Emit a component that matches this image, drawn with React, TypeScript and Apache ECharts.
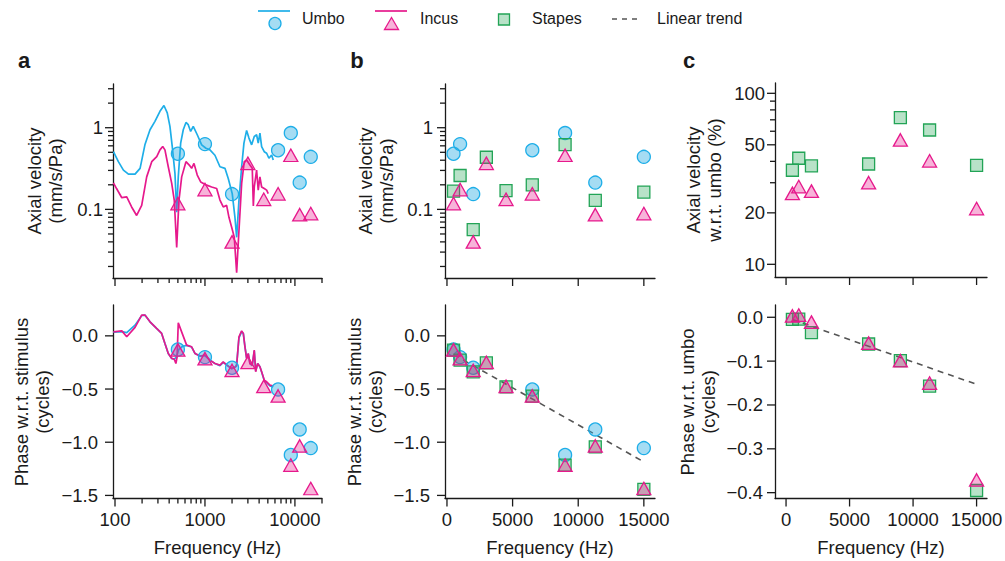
import React, { useEffect, useRef } from 'react';
import * as echarts from 'echarts';

// ---------- DATA ----------
const UMBO_FREQ = [500, 1000, 2000, 6500, 9000, 11300, 15000];
const ALL_FREQ = [500, 1000, 2000, 3000, 4500, 6500, 9000, 11300, 15000];
const REL_FREQ = [500, 1000, 2000, 6500, 9000, 11300, 15000];

const umboVel = [0.48, 0.63, 0.154, 0.53, 0.86, 0.213, 0.44];
const incusVel = [0.118, 0.175, 0.04, 0.367, 0.133, 0.155, 0.46, 0.086, 0.089];
const stapesVel = [0.167, 0.26, 0.0565, 0.435, 0.17, 0.2, 0.62, 0.129, 0.163];

const umboPhase = [-0.128, -0.2, -0.3, -0.504, -1.12, -0.88, -1.055];
const incusPhase = [-0.132, -0.215, -0.325, -0.25, -0.475, -0.565, -1.215, -1.035, -1.435];
const stapesPhase = [-0.134, -0.228, -0.338, -0.254, -0.479, -0.567, -1.215, -1.043, -1.444];

const stapesRel = [35.5, 41.7, 37.6, 38.6, 72, 61, 37.9];
const incusRel = [26, 28.5, 26.8, 30, 53.4, 40.3, 21.2];
const stapesRelPhase = [-0.005, -0.004, -0.035, -0.061, -0.099, -0.157, -0.395];
const incusRelPhase = [0.003, 0.005, -0.011, -0.059, -0.099, -0.15, -0.371];

const trendBFreq = [500, 15000];
const trendBPhase = [-0.175, -1.185];
const trendCFreq = [500, 15000];
const trendCPhase = [-0.005, -0.153];

// continuous curves (panel a)
const umboMagF = [96, 109, 124, 141, 167, 190, 215, 245, 278, 316, 350, 381, 408, 433, 464, 485, 505, 537, 574, 615, 652, 693, 741, 821, 919, 1026, 1136, 1291, 1468, 1668, 1815, 2010, 2154, 2250, 2387, 2558, 2712, 2904, 3083, 3303, 3532, 3750, 3910, 4083, 4266, 4560, 4850, 5140, 5510, 5740];
const umboMagV = [0.509, 0.384, 0.303, 0.27, 0.27, 0.318, 0.617, 0.945, 1.196, 1.589, 1.87, 1.52, 1.04, 0.588, 0.276, 0.0926, 0.25, 0.647, 0.945, 1.16, 1.09, 0.9, 1.04, 0.82, 0.617, 0.561, 0.535, 0.46, 0.333, 0.318, 0.239, 0.156, 0.08, 0.0455, 0.129, 0.333, 0.647, 0.926, 0.746, 0.617, 0.78, 0.82, 0.647, 0.86, 0.588, 0.509, 0.487, 0.423, 0.464, 0.403];
const incusMagF = [96, 104, 119, 135, 153, 174, 198, 225, 256, 291, 316, 339, 359, 391, 427, 456, 485, 514, 551, 615, 669, 711, 755, 821, 896, 1044, 1187, 1349, 1468, 1596, 1741, 1848, 1981, 2118, 2250, 2387, 2558, 2734, 2904, 3162, 3355, 3450, 3532, 3750, 3910, 4083, 4266, 4560, 4850, 5050];
const incusMagV = [0.211, 0.18, 0.139, 0.142, 0.107, 0.0843, 0.112, 0.25, 0.384, 0.443, 0.535, 0.588, 0.535, 0.333, 0.208, 0.129, 0.0342, 0.129, 0.25, 0.384, 0.349, 0.318, 0.366, 0.263, 0.217, 0.198, 0.188, 0.18, 0.13, 0.107, 0.112, 0.08, 0.0605, 0.0455, 0.0168, 0.055, 0.208, 0.384, 0.403, 0.349, 0.318, 0.11, 0.188, 0.303, 0.172, 0.25, 0.188, 0.18, 0.172, 0.156];

const umboPhF = [96, 119, 135, 167, 198, 215, 245, 290, 330, 359, 391, 427, 456, 480, 510, 560, 625, 711, 774, 880, 1000, 1136, 1291, 1468, 1596, 1741, 1981, 2192, 2250, 2387, 2558, 2670, 2783, 2904, 3030, 3162, 3355, 3532, 3662, 3853, 4083, 4266, 4560, 4850, 5275, 5740];
const umboPhV = [0.035, 0.04, 0.03, 0.1, 0.19, 0.195, 0.132, 0.07, 0.023, -0.071, -0.165, -0.212, -0.22, -0.2, -0.13, -0.1, -0.09, -0.105, -0.165, -0.19, -0.185, -0.228, -0.26, -0.28, -0.25, -0.27, -0.31, -0.29, -0.27, -0.02, 0.04, 0.02, -0.1, -0.21, -0.17, -0.26, -0.28, -0.14, -0.33, -0.26, -0.29, -0.34, -0.42, -0.44, -0.47, -0.48];
const incusPhF = [96, 119, 135, 167, 198, 215, 245, 290, 330, 359, 391, 427, 456, 475, 490, 505, 625, 711, 774, 880, 1000, 1136, 1291, 1468, 1596, 1741, 1981, 2192, 2250, 2387, 2558, 2670, 2783, 2904, 3030, 3162, 3355, 3532, 3662, 3853, 4083, 4266, 4560, 4850, 5275, 5740];
const incusPhV = [0.038, 0.047, -0.009, 0.08, 0.195, 0.195, 0.132, 0.07, 0.023, -0.071, -0.165, -0.212, -0.22, -0.26, -0.2, 0.122, -0.087, -0.103, -0.165, -0.19, -0.181, -0.228, -0.26, -0.275, -0.244, -0.275, -0.307, -0.29, -0.28, -0.009, 0.047, 0.023, -0.103, -0.212, -0.165, -0.26, -0.275, -0.134, -0.338, -0.26, -0.29, -0.338, -0.416, -0.432, -0.463, -0.473];

// tick values
const LOGF_MAJOR = [100, 1000, 10000];
const LOGF_MINOR = [200, 300, 400, 500, 600, 700, 800, 900, 2000, 3000, 4000, 5000, 6000, 7000, 8000, 9000, 20000];
const VEL_MAJOR = [0.1, 1];
const VEL_MINOR = [0.02, 0.03, 0.04, 0.05, 0.06, 0.07, 0.08, 0.09, 0.2, 0.3, 0.4, 0.5, 0.6, 0.7, 0.8, 0.9, 2, 3];
const PHASE_MAJOR = [0, -0.5, -1, -1.5];
const LINF_MAJOR = [0, 5000, 10000, 15000];
const REL_MAJOR = [10, 20, 50, 100];
const REL_MINOR = [30, 40, 60, 70, 80, 90];
const RELPH_MAJOR = [0, -0.1, -0.2, -0.3, -0.4];

// ---------- STYLE ----------
const FONT = '"Liberation Sans", Arial, Helvetica, sans-serif';
const TXT = '#1a1a1a';
const AXIS = '#1a1a1a';
const UMBO_LINE = '#1eaee8';
const UMBO_FILL = 'rgba(41,171,226,0.42)';
const INCUS_LINE = '#e6198c';
const INCUS_FILL = 'rgba(232,25,139,0.33)';
const STAPES_LINE = '#22a456';
const STAPES_FILL = 'rgba(35,164,85,0.32)';
const TREND = '#555555';

const GRIDS = [
  { left: 113, top: 84, width: 209, height: 194 },
  { left: 113, top: 305, width: 209, height: 193.5 },
  { left: 445, top: 84, width: 210, height: 194 },
  { left: 445, top: 305, width: 210, height: 193.5 },
  { left: 775, top: 83, width: 212, height: 194 },
  { left: 775, top: 305, width: 212, height: 193.5 },
];

const X_RANGES: [string, number, number][] = [
  ['log', 95, 20000], ['log', 95, 20000],
  ['value', -150, 15850], ['value', -150, 15850],
  ['value', -870, 15820], ['value', -870, 15820],
];
const Y_RANGES: [string, number, number][] = [
  ['log', 0.01445, 3.43], ['value', -1.529, 0.29],
  ['log', 0.01445, 3.43], ['value', -1.529, 0.29],
  ['log', 8.43, 114.9], ['value', -0.4133, 0.028],
];

type Tick = { v: number; major: boolean; label: string };

const fmtPhase = (v: number) => {
  const s = Math.abs(v).toFixed(1);
  return v < -1e-9 ? '\u2212' + s : s;
};

function makeTicks(majors: number[], minors: number[], fmt: (v: number) => string): Tick[] {
  return [
    ...majors.map((v) => ({ v, major: true, label: fmt(v) })),
    ...minors.map((v) => ({ v, major: false, label: '' })),
  ];
}

function tickSeries(kind: 'x' | 'y', idx: number, ticks: Tick[], showLabels: boolean, gap: number) {
  const ref = kind === 'x' ? Y_RANGES[idx][1] : X_RANGES[idx][1];
  return {
    type: 'custom',
    xAxisIndex: idx,
    yAxisIndex: idx,
    silent: true,
    clip: false,
    z: 10,
    data: ticks.map((t) => (kind === 'x' ? [t.v, ref] : [ref, t.v])),
    renderItem: (params: any, api: any) => {
      const t = ticks[params.dataIndex];
      const cs = params.coordSys;
      const len = t.major ? 8 : 5;
      const children: any[] = [];
      const tstyle = (text: string, align: string) => ({
        text,
        font: `18.5px ${FONT}`,
        fill: TXT,
        align,
        verticalAlign: 'middle',
        textAlign: align,
        textVerticalAlign: 'middle',
      });
      if (kind === 'x') {
        const x = api.coord([t.v, ref])[0];
        const y0 = cs.y + cs.height;
        children.push({ type: 'line', shape: { x1: x, y1: y0, x2: x, y2: y0 + len }, style: { stroke: AXIS, lineWidth: 1.3 } });
        if (showLabels && t.label) children.push({ type: 'text', x, y: y0 + gap, style: tstyle(t.label, 'center') });
      } else {
        const y = api.coord([ref, t.v])[1];
        const x0 = cs.x;
        children.push({ type: 'line', shape: { x1: x0 - len, y1: y, x2: x0, y2: y }, style: { stroke: AXIS, lineWidth: 1.3 } });
        if (showLabels && t.label) children.push({ type: 'text', x: x0 - gap, y, style: tstyle(t.label, 'right') });
      }
      return { type: 'group', children };
    },
  };
}

const zip = (a: number[], b: number[]) => a.map((v, i) => [v, b[i]]);

function lineSeries(idx: number, f: number[], v: number[], color: string) {
  return {
    type: 'line', xAxisIndex: idx, yAxisIndex: idx, data: zip(f, v), showSymbol: false, symbol: 'none',
    lineStyle: { color, width: 1.7 }, z: 2, silent: true,
  };
}
function trendSeries(idx: number, f: number[], v: number[]) {
  return {
    type: 'line', xAxisIndex: idx, yAxisIndex: idx, data: zip(f, v), showSymbol: false, symbol: 'none',
    lineStyle: { color: TREND, width: 1.6, type: [6, 5] }, z: 2, silent: true,
  };
}
function scatter(idx: number, f: number[], v: number[], kind: 'umbo' | 'incus' | 'stapes') {
  const cfg = {
    umbo: { symbol: 'circle', size: 13, fill: UMBO_FILL, stroke: UMBO_LINE },
    incus: { symbol: 'triangle', size: [14, 12.5], fill: INCUS_FILL, stroke: INCUS_LINE },
    stapes: { symbol: 'rect', size: 12, fill: STAPES_FILL, stroke: STAPES_LINE },
  }[kind];
  return {
    type: 'scatter', xAxisIndex: idx, yAxisIndex: idx, data: zip(f, v), symbol: cfg.symbol, symbolSize: cfg.size,
    itemStyle: { color: cfg.fill, borderColor: cfg.stroke, borderWidth: 1.3, opacity: 1 }, z: 3, silent: true,
  };
}

function yTitle(x: number, y: number, text: string) {
  return {
    type: 'text', x, y, rotation: Math.PI / 2,
    style: {
      text, font: `18.5px ${FONT}`, fill: TXT, lineHeight: 21,
      align: 'center', verticalAlign: 'middle', textAlign: 'center', textVerticalAlign: 'middle',
    },
  };
}
function plainText(x: number, y: number, text: string, align = 'left', font = `16px ${FONT}`) {
  return {
    type: 'text', x, y,
    style: { text, font, fill: TXT, align, verticalAlign: 'middle', textAlign: align, textVerticalAlign: 'middle' },
  };
}

export default function App() {
  const ref = useRef<HTMLDivElement>(null);
  useEffect(() => {
    document.body.style.margin = '0';
    document.body.style.overflow = 'hidden';
    if (!ref.current) return;
    const chart = echarts.init(ref.current, undefined, { renderer: 'svg' });

    const xAxis = X_RANGES.map(([type, min, max], i) => ({
      type, gridIndex: i, min, max, logBase: 10,
      axisLine: { show: true, onZero: false, lineStyle: { color: AXIS, width: 1.3 } },
      axisTick: { show: false }, axisLabel: { show: false }, splitLine: { show: false }, minorTick: { show: false },
    }));
    const yAxis = Y_RANGES.map(([type, min, max], i) => ({
      type, gridIndex: i, min, max, logBase: 10,
      axisLine: { show: true, onZero: false, lineStyle: { color: AXIS, width: 1.3 } },
      axisTick: { show: false }, axisLabel: { show: false }, splitLine: { show: false }, minorTick: { show: false },
    }));

    const fmtNum = (v: number) => String(v);
    const logFTicks = makeTicks(LOGF_MAJOR, LOGF_MINOR, fmtNum);
    const velTicks = makeTicks(VEL_MAJOR, VEL_MINOR, fmtNum);
    const phaseTicks = makeTicks(PHASE_MAJOR, [], fmtPhase);
    const linFTicks = makeTicks(LINF_MAJOR, [], fmtNum);
    const relTicks = makeTicks(REL_MAJOR, REL_MINOR, fmtNum);
    const relPhTicks = makeTicks(RELPH_MAJOR, [], fmtPhase);

    const series: any[] = [
      // panel a
      lineSeries(0, umboMagF, umboMagV, UMBO_LINE),
      lineSeries(0, incusMagF, incusMagV, INCUS_LINE),
      scatter(0, UMBO_FREQ, umboVel, 'umbo'),
      scatter(0, ALL_FREQ, incusVel, 'incus'),
      lineSeries(1, umboPhF, umboPhV, UMBO_LINE),
      lineSeries(1, incusPhF, incusPhV, INCUS_LINE),
      scatter(1, UMBO_FREQ, umboPhase, 'umbo'),
      scatter(1, ALL_FREQ, incusPhase, 'incus'),
      // panel b
      scatter(2, UMBO_FREQ, umboVel, 'umbo'),
      scatter(2, ALL_FREQ, stapesVel, 'stapes'),
      scatter(2, ALL_FREQ, incusVel, 'incus'),
      trendSeries(3, trendBFreq, trendBPhase),
      scatter(3, UMBO_FREQ, umboPhase, 'umbo'),
      scatter(3, ALL_FREQ, stapesPhase, 'stapes'),
      scatter(3, ALL_FREQ, incusPhase, 'incus'),
      // panel c
      scatter(4, REL_FREQ, stapesRel, 'stapes'),
      scatter(4, REL_FREQ, incusRel, 'incus'),
      trendSeries(5, trendCFreq, trendCPhase),
      scatter(5, REL_FREQ, stapesRelPhase, 'stapes'),
      scatter(5, REL_FREQ, incusRelPhase, 'incus'),
      // ticks
      tickSeries('x', 0, logFTicks, false, 21),
      tickSeries('y', 0, velTicks, true, 10),
      tickSeries('x', 1, logFTicks, true, 21),
      tickSeries('y', 1, phaseTicks, true, 15),
      tickSeries('x', 2, linFTicks, false, 21),
      tickSeries('y', 2, velTicks, true, 12),
      tickSeries('x', 3, linFTicks, true, 21),
      tickSeries('y', 3, phaseTicks, true, 15),
      tickSeries('x', 4, linFTicks, false, 21),
      tickSeries('y', 4, relTicks, true, 10),
      tickSeries('x', 5, linFTicks, true, 21),
      tickSeries('y', 5, relPhTicks, true, 12),
    ];

    const graphic: any[] = [
      // panel letters
      plainText(24, 60.5, 'a', 'center', `bold 22px ${FONT}`),
      plainText(357, 60, 'b', 'center', `bold 22px ${FONT}`),
      plainText(689, 60, 'c', 'center', `bold 22px ${FONT}`),
      // y titles
      yTitle(44.5, 181, 'Axial velocity\n(mm/s/Pa)'),
      yTitle(32, 402, 'Phase w.r.t. stimulus\n(cycles)'),
      yTitle(375.5, 181, 'Axial velocity\n(mm/s/Pa)'),
      yTitle(364.5, 402, 'Phase w.r.t. stimulus\n(cycles)'),
      yTitle(704, 180, 'Axial velocity\nw.r.t. umbo (%)'),
      yTitle(697.5, 402, 'Phase w.r.t. umbo\n(cycles)'),
      // x titles
      plainText(217.5, 547, 'Frequency (Hz)', 'center', `18.5px ${FONT}`),
      plainText(550, 547, 'Frequency (Hz)', 'center', `18.5px ${FONT}`),
      plainText(881, 547, 'Frequency (Hz)', 'center', `18.5px ${FONT}`),
      // legend
      { type: 'line', shape: { x1: 258, y1: 11, x2: 290, y2: 11 }, style: { stroke: UMBO_LINE, lineWidth: 1.7 } },
      { type: 'circle', shape: { cx: 275, cy: 23.5, r: 6 }, style: { fill: UMBO_FILL, stroke: UMBO_LINE, lineWidth: 1.3 } },
      plainText(302, 18.5, 'Umbo'),
      { type: 'line', shape: { x1: 375, y1: 11, x2: 407, y2: 11 }, style: { stroke: INCUS_LINE, lineWidth: 1.7 } },
      { type: 'polygon', shape: { points: [[391.5, 17.5], [384.5, 29.5], [398.5, 29.5]] }, style: { fill: INCUS_FILL, stroke: INCUS_LINE, lineWidth: 1.3 } },
      plainText(420, 18.5, 'Incus'),
      { type: 'rect', shape: { x: 498.5, y: 14, width: 11, height: 11 }, style: { fill: STAPES_FILL, stroke: STAPES_LINE, lineWidth: 1.3 } },
      plainText(532, 18.5, 'Stapes'),
      { type: 'line', shape: { x1: 612, y1: 19, x2: 640, y2: 19 }, style: { stroke: TREND, lineWidth: 1.5, lineDash: [5, 5] } },
      plainText(657, 18.5, 'Linear trend'),
    ];

    chart.setOption({
      animation: false,
      backgroundColor: '#ffffff',
      grid: GRIDS.map((g) => ({ ...g, containLabel: false })),
      xAxis,
      yAxis,
      series,
      graphic,
    });
    return () => chart.dispose();
  }, []);
  return <div ref={ref} style={{ width: 1005, height: 561 }} />;
}
